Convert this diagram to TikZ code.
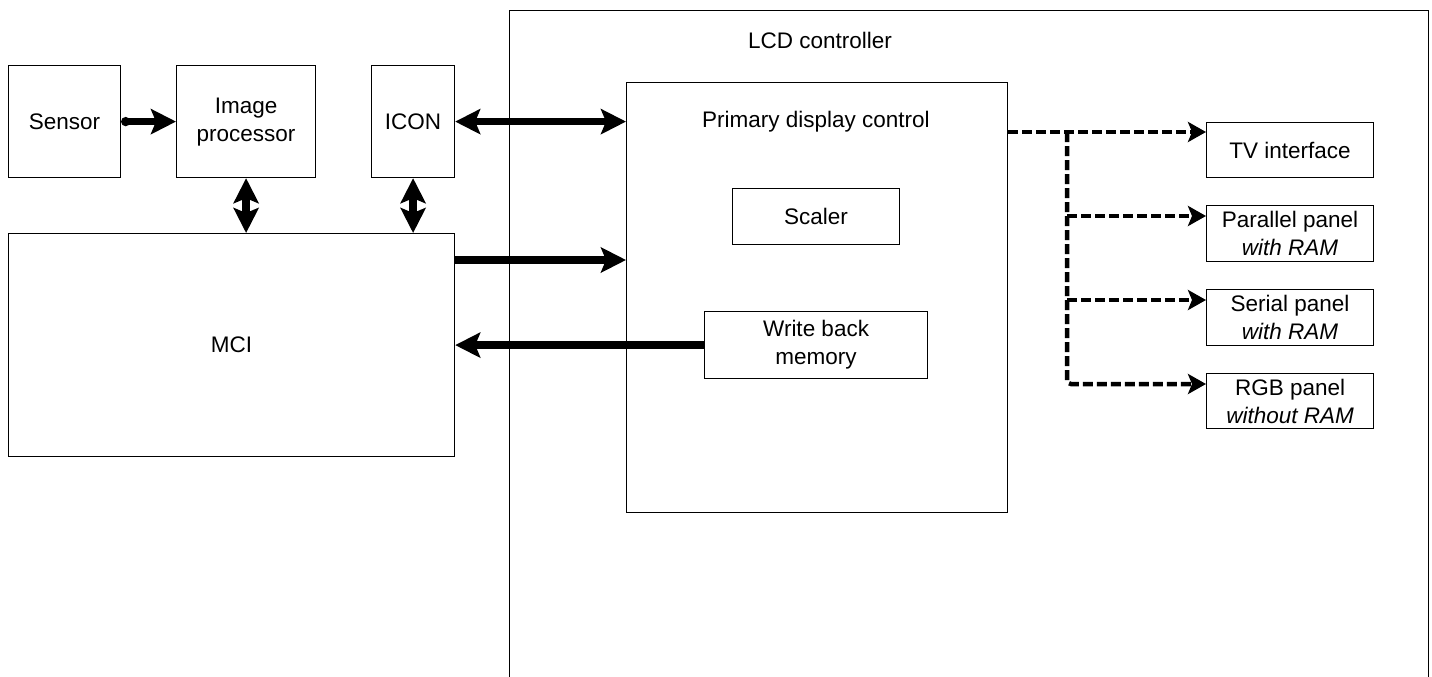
\documentclass[tikz,border=0pt]{standalone}
\usepackage{fontspec}
\setmainfont{Liberation Sans}
\usetikzlibrary{arrows.meta}

\tikzset{
  >={Stealth[length=25pt,width=25pt,inset=5pt]},
  blk/.style={draw, line width=1.2pt, inner sep=0pt, anchor=north west, align=center},
  bus/.style={line width=7.5pt},
  dashbus/.style={line width=4.5pt, dash pattern=on 10pt off 4pt, rounded corners=4pt},
  dashtip/.style={-{Stealth[length=18pt,width=20pt,inset=4pt]}}
}

\begin{document}
\begin{tikzpicture}[x=1pt,y=1pt,yscale=-1,xscale=1,
  every node/.style={font=\fontsize{22.5}{28}\selectfont}]
\useasboundingbox (0,0) rectangle (1432,677);

%Shape: Rectangle (LCD controller, open at the bottom)
\node[blk, minimum width=919pt, minimum height=700pt] (lcd) at (509,10) {};
%Shape: Rectangle
\node[blk, minimum width=112pt, minimum height=112pt] (sensor) at (8,65) {Sensor};
%Shape: Rectangle
\node[blk, minimum width=139pt, minimum height=112pt] (improc) at (176,65) {Image\\processor};
%Shape: Rectangle
\node[blk, minimum width=83pt, minimum height=112pt] (icon) at (371,65) {ICON};
%Shape: Rectangle
\node[blk, minimum width=446pt, minimum height=223pt] (mci) at (8,233) {MCI};
%Shape: Rectangle
\node[blk, minimum width=381pt, minimum height=430pt] (pdc) at (626,82) {};
%Shape: Rectangle
\node[blk, minimum width=167pt, minimum height=56pt] (scaler) at (732,188) {Scaler};
%Shape: Rectangle
\node[blk, minimum width=223pt, minimum height=67pt] (wbm) at (704,311) {Write back\\memory};
%Shape: Rectangle
\node[blk, minimum width=167pt, minimum height=55pt] (tv) at (1206,122) {TV interface};
%Shape: Rectangle
\node[blk, minimum width=167pt, minimum height=56pt] (par) at (1206,205) {Parallel panel\\\textit{with RAM}};
%Shape: Rectangle
\node[blk, minimum width=167pt, minimum height=56pt] (ser) at (1206,289) {Serial panel\\\textit{with RAM}};
%Shape: Rectangle
\node[blk, minimum width=167pt, minimum height=55pt] (rgb) at (1206,373) {RGB panel\\\textit{without RAM}};

% Text Node
\node (lcdlabel) at (820,40) {LCD controller};
% Text Node
\node (pdclabel) at (816,122) {Primary display control};

%Straight Lines
\draw[bus, {Circle[length=9pt]}->] (sensor) -- (improc);
%Straight Lines
\draw[bus, <->] (improc.south) -- (improc.south |- mci.north);
%Straight Lines
\draw[bus, <->] (icon.south) -- (icon.south |- mci.north);
%Straight Lines
\draw[bus, <->] (icon.east) -- (icon.east -| pdc.west);
%Straight Lines
\draw[bus, ->] ([yshift=27pt]mci.north east) -- ([yshift=27pt]mci.north east -| pdc.west);
%Straight Lines
\draw[bus, ->] (wbm.west) -- (wbm.west -| mci.east);

%Coordinates for the display outputs
\coordinate (tvin) at ([yshift=10pt]tv.north west);
\coordinate (parin) at ([yshift=11pt]par.north west);
\coordinate (serin) at ([yshift=11pt]ser.north west);
\coordinate (rgbin) at ([yshift=11pt]rgb.north west);
\coordinate (fork) at (1067,0);

%Dashed Lines
\draw[dashbus, dashtip] (pdc.east |- tvin) -- (tvin);
\draw[dashbus, dashtip] (fork |- tvin) |- (rgbin);
\draw[dashbus, dashtip] (fork |- parin) -- (parin);
\draw[dashbus, dashtip] (fork |- serin) -- (serin);

\end{tikzpicture}
\end{document}
